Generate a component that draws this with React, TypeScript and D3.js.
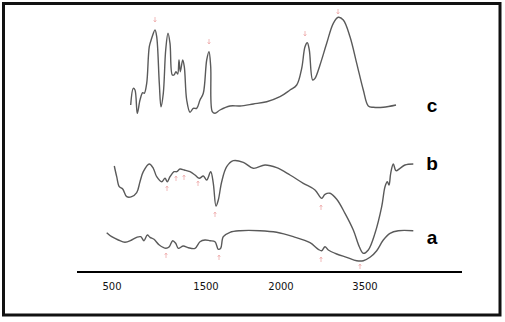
import React from "react";
import * as d3 from "d3";

// positions along the axis (0 = left end of axis), signal measured up from axis
type Pt = [number, number];

const curveC: Pt[] = [
  [53.7, 167], [56.3, 183.7], [58, 182], [60.3, 158.7], [63, 172], [65.7, 179.3],
  [67.3, 178.7], [69.7, 188.7], [72.3, 225.3], [74.7, 233.7], [78, 242], [79.7, 235.3],
  [82.3, 188.7], [84, 165.3], [86.3, 178.7], [88.7, 222], [91, 238.7], [93, 228.7],
  [95.3, 197], [97, 197], [99, 200.3], [100.7, 198], [102, 212], [103.3, 200.3],
  [105.7, 212], [107.3, 205.3], [109.7, 172], [113, 159.7], [116.3, 163.7], [119.7, 163.7],
  [123, 172], [126.3, 178.7], [129.7, 212], [132, 220.3], [133.7, 205.3], [135.3, 160.3],
  [138, 158.7], [143, 162], [153, 166], [163, 166], [176.3, 168], [189.7, 170.3],
  [203, 175.3], [213, 182], [219.7, 187], [224.7, 203.7], [228, 225.3], [230.3, 229.3],
  [232.3, 222], [235.7, 192], [238, 193.7], [243, 207], [249.7, 228.7], [256.3, 248.7],
  [261.3, 254.7], [266.3, 252], [273, 235.3], [279.7, 208.7], [286.3, 182], [291.3, 166],
  [296.3, 164.7], [306.3, 164.7], [319, 167],
];

const curveB: Pt[] = [
  [37.3, 106], [39.7, 95.3], [42.3, 85.3], [45.7, 83], [49.7, 75.3], [54.7, 75.3],
  [59.7, 79.3], [63, 90.3], [66.3, 100.3], [72.3, 108], [76.3, 103.7], [79.7, 95.3],
  [84.7, 90.3], [88, 93.7], [90.3, 90.3], [93, 95.3], [97, 100.3], [99.7, 100.3],
  [103, 103], [107.3, 102], [113, 100.3], [118, 97], [122.3, 93.7], [126.3, 96],
  [129.7, 92], [133.7, 100.3], [136.3, 88.7], [139, 66], [141.3, 72], [144.7, 90.3],
  [149.7, 105.3], [156.3, 111.3], [166.3, 109.7], [176.3, 103.7], [188, 107], [199.7, 104.3],
  [213, 97], [226.3, 88.7], [238, 82], [244.7, 73.7], [248, 77.7], [253, 78.7],
  [259.7, 72.7], [268, 58.7], [276.3, 42], [282.3, 25.3], [286.3, 18.7], [291.3, 22],
  [298, 38.7], [304.7, 65.3], [308, 85.3], [310.3, 90.3], [312, 87], [313.7, 98.7],
  [316.3, 108], [319, 101.3], [323, 103.7], [328, 107], [336.3, 108],
];

const curveA: Pt[] = [
  [29.7, 39.3], [34.7, 35.3], [41.3, 32], [48, 29.7], [54.7, 32], [59.7, 34.7],
  [63.7, 35.3], [67, 31.3], [70.3, 37], [73, 34.7], [77, 32.7], [82.3, 27],
  [89, 23.7], [92.3, 25.3], [95.7, 31.3], [98.7, 28.7], [101.3, 23.7], [106.3, 26],
  [111.3, 24.3], [118, 23.7], [123, 30.3], [128, 32], [133, 31.3], [138, 30.3],
  [141.3, 22.7], [143.7, 23.7], [146.3, 35.3], [153, 39.7], [163, 41.3], [183, 41.3],
  [199.7, 39.7], [216.3, 35.3], [233, 29.3], [241.3, 22.7], [244.7, 21.3], [248, 25.3],
  [251.3, 22], [259.7, 18], [269.7, 14.7], [279.7, 11.3], [286.3, 11.3], [293, 14.7],
  [299.7, 21.3], [306.3, 32], [313, 38.7], [321.3, 41.3], [336.3, 41.3],
];

// peak markers: down arrows over c, up arrows under b and a
const markersDown: Pt[] = [[78, 250], [132, 228], [228, 236], [261, 258]];
const markersUp: Pt[] = [
  [90, 86], [99, 96], [107, 97], [121, 91], [138, 60], [244, 67],
  [89, 19], [142, 17], [244, 15], [283, 8],
];

const tickPos = [35, 129, 204, 288];
const tickLabels = ["500", "1500", "2000", "3500"];

const seriesLabels = ["c", "b", "a"];
const labelLevels = [167, 109, 35];

export default function App() {
  const W = 505, H = 322;
  const x = d3.scaleLinear().domain([0, 385]).range([77, 462]);
  const y = d3.scaleLinear().domain([0, 270]).range([272, 2]);

  const line = d3
    .line<Pt>()
    .x((d) => x(d[0]))
    .y((d) => y(d[1]))
    .curve(d3.curveCatmullRom.alpha(0.5));

  const curves = [curveC, curveB, curveA];

  return (
    <svg width={W} height={H} style={{ position: "absolute", left: 0, top: 0, background: "#fff" }}>
      <rect x={3.5} y={3.5} width={496.5} height={311.5} fill="#fff" stroke="#111" strokeWidth={3} />

      {curves.map((c, i) => (
        <path key={i} d={line(c) || ""} fill="none" stroke="#5a5a5a" strokeWidth={1.4} />
      ))}

      {markersDown.map((m, i) => {
        const cx = x(m[0]), cy = y(m[1]);
        return (
          <path key={"d" + i} d={`M${cx},${cy - 5}V${cy}M${cx - 1.3},${cy - 1.8}L${cx},${cy}L${cx + 1.3},${cy - 1.8}`}
            fill="none" stroke="#eda8a8" strokeWidth={0.8} />
        );
      })}
      {markersUp.map((m, i) => {
        const cx = x(m[0]), cy = y(m[1]);
        return (
          <path key={"u" + i} d={`M${cx},${cy + 5}V${cy}M${cx - 1.3},${cy + 1.8}L${cx},${cy}L${cx + 1.3},${cy + 1.8}`}
            fill="none" stroke="#eda8a8" strokeWidth={0.8} />
        );
      })}

      <line x1={x(0)} x2={x(385)} y1={y(0)} y2={y(0)} stroke="#000" strokeWidth={2} />
      {tickPos.map((t, i) => (
        <text key={i} x={x(t)} y={290} textAnchor="middle" fontFamily="DejaVu Sans, Verdana, sans-serif"
          fontSize={10} fill="#111">
          {tickLabels[i]}
        </text>
      ))}

      {seriesLabels.map((s, i) => (
        <text key={s} x={x(355)} y={y(labelLevels[i])} dy="0.35em" textAnchor="middle"
          fontFamily="Liberation Sans, Arial, sans-serif" fontWeight="bold" fontSize={19} fill="#000">
          {s}
        </text>
      ))}
    </svg>
  );
}
